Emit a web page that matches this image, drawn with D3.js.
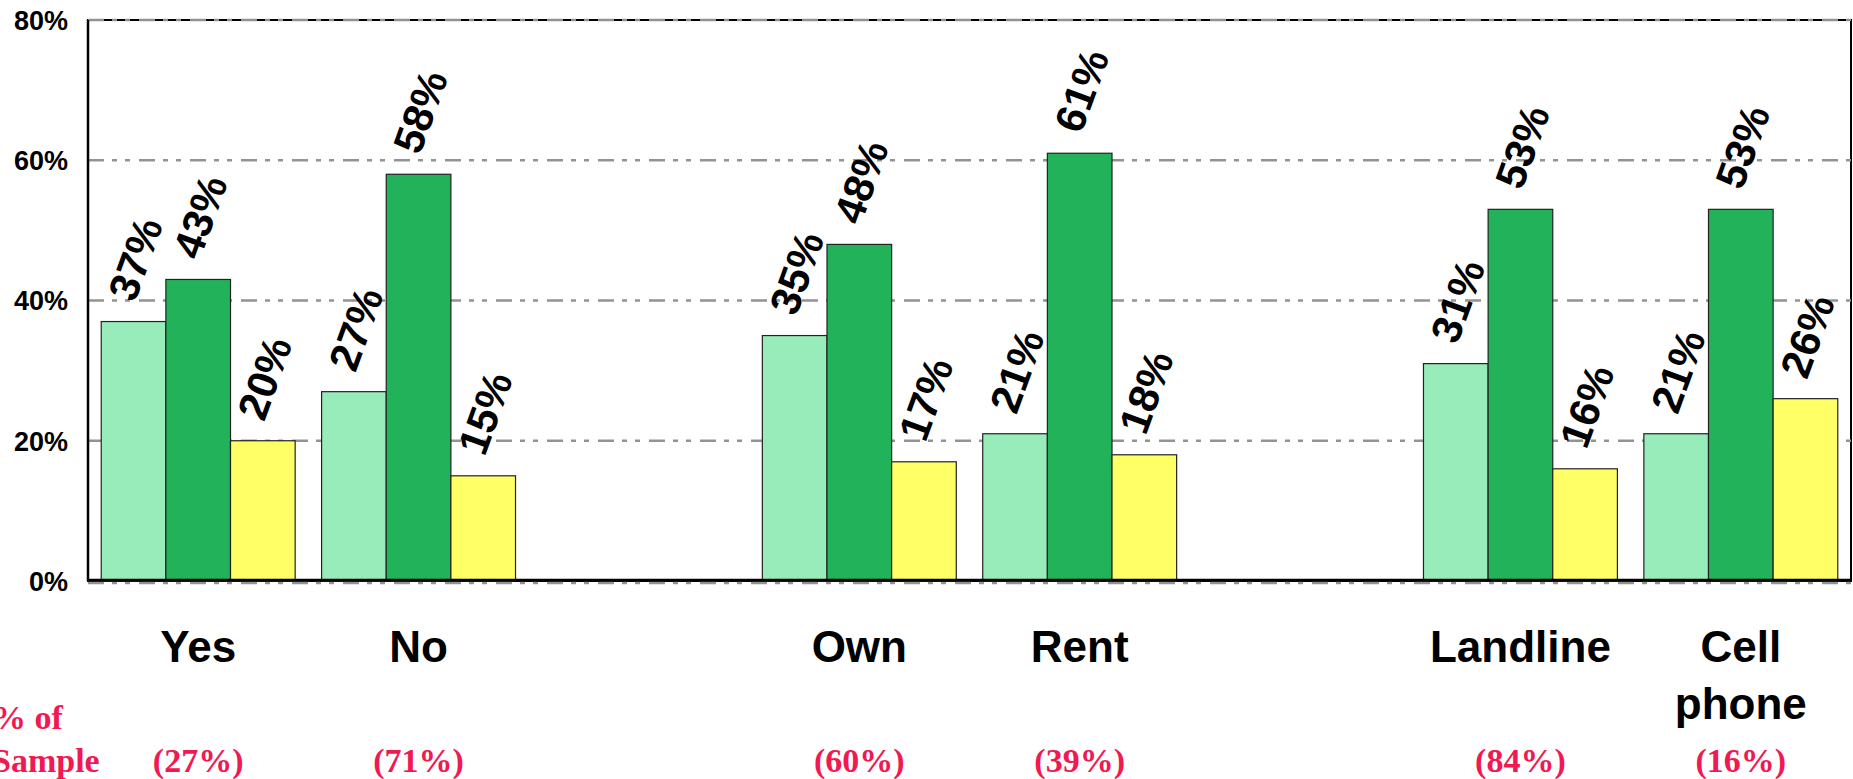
<!DOCTYPE html>
<html>
<head>
<meta charset="utf-8">
<script src="https://cdn.jsdelivr.net/npm/d3@7"></script>
<style>
  body { margin: 0; background: #fff; }
  svg { display: block; }
  .tick text { font-family: "Liberation Sans", Arial, sans-serif; font-weight: bold; }
</style>
</head>
<body>
<svg id="chart" width="1853" height="779"></svg>
<script>
// groups of two categories, with an empty slot between each pair
var categories = ["Yes", "No", "Own", "Rent", "Landline", "Cell phone"];
var seriesLight = [37, 27, 35, 21, 31, 21];
var seriesDark  = [43, 58, 48, 61, 53, 53];
var seriesYellow = [20, 15, 17, 18, 16, 26];
var sampleShare = [27, 71, 60, 39, 84, 16];
var yTicks = [0, 20, 40, 60, 80];

var seriesColors = ["#98ecba", "#22b25a", "#ffff66"];

var svg = d3.select("#chart");
var width = +svg.attr("width");
var height = +svg.attr("height");

var plot = {left: 88, right: 1851, top: 20, bottom: 581};

// slot keys: insert a blank slot after every second category
var slots = [];
categories.forEach(function(c, i){
  slots.push(c);
  if(i % 2 == 1 && i < categories.length - 1) slots.push("gap" + i);
});

var x = d3.scaleBand().domain(slots).range([plot.left, plot.right]).padding(0);
var inner = d3.scaleBand().domain([0, 1, 2])
  .range([x.bandwidth() * 0.06, x.bandwidth() * 0.94]).padding(0);
var y = d3.scaleLinear().domain([0, 80]).range([plot.bottom, plot.top]);

// frame
svg.append("rect")
  .attr("x", plot.left).attr("y", plot.top)
  .attr("width", plot.right - plot.left).attr("height", plot.bottom - plot.top)
  .attr("fill", "#fff").attr("stroke", "#000").attr("stroke-width", 2);

// dash-dot-dot gridlines
svg.append("g").selectAll("line").data(yTicks).enter().append("line")
  .attr("x1", plot.left).attr("x2", plot.right)
  .attr("y1", function(d){ return d == 0 ? y(d) + 2 : y(d); })
  .attr("y2", function(d){ return d == 0 ? y(d) + 2 : y(d); })
  .attr("stroke", "#939393").attr("stroke-width", 2.5)
  .attr("stroke-dasharray", "16,8,5,8,5,9");

// bars
var rows = categories.map(function(c, i){
  return {cat: c, vals: [seriesLight[i], seriesDark[i], seriesYellow[i]]};
});

var groups = svg.append("g").selectAll("g").data(rows).enter().append("g")
  .attr("transform", function(d){ return "translate(" + x(d.cat) + ",0)"; });

groups.selectAll("rect").data(function(d){ return d.vals; }).enter().append("rect")
  .attr("x", function(d, i){ return inner(i); })
  .attr("y", function(d){ return y(d); })
  .attr("width", inner.bandwidth())
  .attr("height", function(d){ return y(0) - y(d); })
  .attr("fill", function(d, i){ return seriesColors[i]; })
  .attr("stroke", "#222").attr("stroke-width", 1.2);

// rotated value labels, box sits just above the bar top
var angle = 70, fs = 42, rad = angle * Math.PI / 180;
groups.selectAll("text.val").data(function(d){ return d.vals; }).enter().append("text")
  .attr("class", "val")
  .text(function(d){ return d + "%"; })
  .attr("font-family", "'Liberation Sans', Arial, sans-serif")
  .attr("font-weight", "bold")
  .attr("font-size", fs)
  .attr("text-anchor", "middle")
  .attr("dominant-baseline", "central")
  .attr("transform", function(d, i){
    var len = this.getComputedTextLength();
    var h = len * Math.sin(rad) + fs * 0.72 * Math.cos(rad);
    var cx = inner(i) + inner.bandwidth() / 2 + 2;
    var cy = y(d) - 18 - h / 2;
    return "translate(" + cx + "," + cy + ") rotate(" + (-angle) + ")";
  });

// left axis + bottom line
svg.append("line")
  .attr("x1", plot.left).attr("x2", plot.left)
  .attr("y1", plot.top).attr("y2", plot.bottom)
  .attr("stroke", "#000").attr("stroke-width", 2.5);
svg.append("line")
  .attr("x1", plot.left).attr("x2", plot.right)
  .attr("y1", plot.bottom - 1).attr("y2", plot.bottom - 1)
  .attr("stroke", "#000").attr("stroke-width", 2.5);

var yAxis = d3.axisLeft(y).tickValues(yTicks).tickSize(0).tickPadding(20)
  .tickFormat(function(d){ return d + "%"; });
var ga = svg.append("g").attr("transform", "translate(" + plot.left + ",0)").call(yAxis);
ga.select(".domain").remove();
ga.selectAll("text").attr("font-size", 27).attr("fill", "#000").attr("dy", "0.35em");

// category labels (multi word ones wrap)
var catText = svg.append("g").selectAll("text").data(categories).enter().append("text")
  .attr("x", function(d){ return x(d) + x.bandwidth() / 2; })
  .attr("y", 662)
  .attr("text-anchor", "middle")
  .attr("font-family", "'Liberation Sans', Arial, sans-serif")
  .attr("font-weight", "bold")
  .attr("font-size", 44)
  .attr("fill", "#000");
catText.each(function(d){
  var words = d.split(" ");
  var t = d3.select(this);
  words.forEach(function(w, k){
    t.append("tspan").attr("x", t.attr("x")).attr("dy", k == 0 ? 0 : 57).text(w);
  });
});

// share of sample row
var red = "#f01952";
var note = svg.append("text")
  .attr("x", -8).attr("y", 729)
  .attr("font-family", "'Liberation Serif', 'Times New Roman', serif")
  .attr("font-weight", "bold").attr("font-size", 34).attr("fill", red);
note.append("tspan").attr("x", -8).text("% of");
note.append("tspan").attr("x", -8).attr("dy", 43).text("Sample");

svg.append("g").selectAll("text").data(categories).enter().append("text")
  .attr("x", function(d){ return x(d) + x.bandwidth() / 2; })
  .attr("y", 772)
  .attr("text-anchor", "middle")
  .attr("font-family", "'Liberation Serif', 'Times New Roman', serif")
  .attr("font-weight", "bold").attr("font-size", 34).attr("fill", red)
  .text(function(d, i){ return "(" + sampleShare[i] + "%)"; });
</script>
</body>
</html>
